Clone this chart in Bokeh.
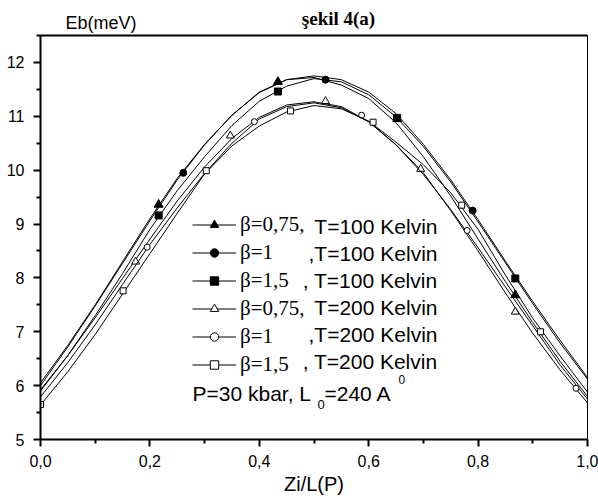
from bokeh.plotting import figure
from bokeh.layouts import column
from bokeh.models import (Label, Legend, LegendItem, LinearAxis, FixedTicker,
                          Range1d, CustomJSTickFormatter)
from bokeh.core.properties import value
from bokeh.embed import file_html
from bokeh.resources import INLINE

# ---------------- data ----------------
zi_l = [0.00, 0.05, 0.10, 0.15, 0.20, 0.25, 0.30, 0.35, 0.40, 0.45, 0.50,
        0.55, 0.60, 0.65, 0.70, 0.75, 0.80, 0.85, 0.90, 0.95, 1.00]

eb_b075_t100 = [6.05, 6.75, 7.50, 8.30, 9.10, 9.85, 10.48, 11.02, 11.45, 11.68, 11.72,
                11.58, 11.33, 10.88, 10.25, 9.52, 8.72, 7.93, 7.17, 6.45, 5.80]
eb_b1_t100 = [6.00, 6.72, 7.48, 8.27, 9.06, 9.82, 10.47, 11.02, 11.44, 11.68, 11.75,
              11.68, 11.45, 11.05, 10.48, 9.82, 9.08, 8.31, 7.56, 6.84, 6.15]
eb_b15_t100 = [5.90, 6.56, 7.30, 8.08, 8.90, 9.62, 10.25, 10.83, 11.28, 11.56, 11.70,
               11.64, 11.40, 10.99, 10.44, 9.78, 9.04, 8.28, 7.52, 6.79, 6.12]
eb_b075_t200 = [5.92, 6.56, 7.26, 7.99, 8.72, 9.43, 10.06, 10.59, 10.98, 11.21, 11.27,
                11.18, 10.90, 10.47, 9.95, 9.25, 8.50, 7.72, 6.97, 6.29, 5.68]
eb_b1_t200 = [5.79, 6.43, 7.13, 7.88, 8.62, 9.30, 9.94, 10.50, 10.95, 11.18, 11.25,
              11.16, 10.90, 10.47, 9.92, 9.27, 8.56, 7.83, 7.11, 6.38, 5.75]
eb_b15_t200 = [5.64, 6.26, 6.95, 7.70, 8.45, 9.20, 9.93, 10.45, 10.82, 11.08, 11.20,
               11.14, 10.91, 10.52, 10.10, 9.58, 8.90, 8.05, 7.25, 6.55, 5.88]

# marker points (symbols drawn on the curves)
mk_b075_t100_x = [0.216, 0.434, 0.652, 0.868]
mk_b075_t100_y = [9.36, 11.64, 10.95, 7.68]
mk_b1_t100_x = [0.261, 0.521, 0.790]
mk_b1_t100_y = [9.95, 11.68, 9.25]
mk_b15_t100_x = [0.216, 0.434, 0.652, 0.868]
mk_b15_t100_y = [9.16, 11.46, 10.97, 7.99]
mk_b075_t200_x = [0.174, 0.347, 0.521, 0.695, 0.868]
mk_b075_t200_y = [8.30, 10.64, 11.28, 10.02, 7.37]
mk_b1_t200_x = [0.195, 0.391, 0.587, 0.780, 0.979]
mk_b1_t200_y = [8.57, 10.90, 11.02, 8.88, 5.95]
mk_b15_t200_x = [0.000, 0.151, 0.303, 0.457, 0.608, 0.770, 0.914]
mk_b15_t200_y = [5.65, 7.76, 9.99, 11.10, 10.89, 9.35, 7.00]

legend_beta = ["β=0,75,", "β=1", "β=1,5", "β=0,75,", "β=1", "β=1,5"]
legend_temp = ["T=100 Kelvin", ",T=100 Kelvin", ", T=100 Kelvin",
               "T=200 Kelvin", ",T=200 Kelvin", ", T=200 Kelvin"]

x_ticks = [0.0, 0.2, 0.4, 0.6, 0.8, 1.0]
x_minor = [0.1, 0.3, 0.5, 0.7, 0.9]
y_ticks = [5, 6, 7, 8, 9, 10, 11, 12]
y_minor = [5.5, 6.5, 7.5, 8.5, 9.5, 10.5, 11.5, 12.5]

series = [
    (eb_b075_t100, mk_b075_t100_x, mk_b075_t100_y, "triangle", 9, "black"),
    (eb_b1_t100, mk_b1_t100_x, mk_b1_t100_y, "circle", 7, "black"),
    (eb_b15_t100, mk_b15_t100_x, mk_b15_t100_y, "square", 7, "black"),
    (eb_b075_t200, mk_b075_t200_x, mk_b075_t200_y, "triangle", 8, "white"),
    (eb_b1_t200, mk_b1_t200_x, mk_b1_t200_y, "circle", 6, "white"),
    (eb_b15_t200, mk_b15_t200_x, mk_b15_t200_y, "square", 6, "white"),
]

# ---------------- header strip (title + y-axis caption) ----------------
head = figure(width=598, height=33, x_range=Range1d(0, 1), y_range=Range1d(0, 1),
              output_backend="svg", toolbar_location=None, title_location=None,
              x_axis_location=None, y_axis_location=None,
              min_border_left=0, min_border_right=0, min_border_top=0, min_border_bottom=0)
head.xgrid.visible = False
head.ygrid.visible = False
head.outline_line_color = None
head.background_fill_color = "white"
head.border_fill_color = "white"


def lab(fig, x, y, text, size, font="Liberation Sans", align="left",
        baseline="middle", style="normal"):
    fig.add_layout(Label(x=x, y=y, x_units="screen", y_units="screen", text=text,
                         text_font=font, text_font_size=size, text_align=align,
                         text_baseline=baseline, text_color="black",
                         text_font_style=style))


lab(head, 25, 11, "Eb(meV)", "18px", baseline="alphabetic")
lab(head, 298, 15, "şekil 4(a)", "19px", font="Liberation Serif", align="center",
    baseline="alphabetic", style="bold")

# ---------------- main plot ----------------
p = figure(width=598, height=467, x_range=Range1d(0, 1), y_range=Range1d(5, 12.5),
           output_backend="svg", toolbar_location=None, title_location=None,
           min_border_left=40, min_border_right=11, min_border_top=2, min_border_bottom=61)
p.xgrid.visible = False
p.ygrid.visible = False
p.outline_line_color = "black"
p.outline_line_width = 1
p.background_fill_color = "white"
p.border_fill_color = "white"

for ax in (p.xaxis[0], p.yaxis[0]):
    ax.axis_line_width = 2
    ax.major_tick_line_width = 2
    ax.minor_tick_line_width = 2
    ax.major_tick_out = 7
    ax.major_tick_in = 0
    ax.minor_tick_out = 4
    ax.minor_tick_in = 0
    ax.major_label_text_font = "Liberation Sans"
    ax.major_label_text_font_size = "16px"
    ax.major_label_text_color = "black"

p.xaxis[0].major_label_standoff = 8
p.yaxis[0].major_label_standoff = 9
p.xaxis[0].ticker = FixedTicker(ticks=x_ticks, minor_ticks=x_minor)
p.xaxis[0].formatter = CustomJSTickFormatter(code="return tick.toFixed(1).replace('.', ',');")
p.yaxis[0].ticker = FixedTicker(ticks=y_ticks, minor_ticks=y_minor)
p.xaxis[0].axis_label = "Zi/L(P)"
p.xaxis[0].axis_label_text_font = "Liberation Sans"
p.xaxis[0].axis_label_text_font_size = "20px"
p.xaxis[0].axis_label_text_font_style = "normal"
p.xaxis[0].axis_label_text_color = "black"
p.xaxis[0].axis_label_standoff = 3

top_axis = LinearAxis(ticker=FixedTicker(ticks=[]), axis_line_width=2,
                      major_label_text_font_size="0px", major_label_standoff=0,
                      major_tick_out=0, major_tick_in=0, minor_tick_out=0, minor_tick_in=0,
                      major_tick_line_color=None, minor_tick_line_color=None)
p.add_layout(top_axis, "above")

items = []
for (vals, mx, my, mk, sz, fill), beta in zip(series, legend_beta):
    lr = p.line(zi_l, vals, line_color="black", line_width=1)
    sr = p.scatter(mx, my, marker=mk, size=sz, fill_color=fill, line_color="black", line_width=1)
    # empty renderer: only used to open a small gap around the symbol in the legend
    gap = p.scatter([], [], marker="square", size=13, fill_color="white", line_color=None)
    items.append(LegendItem(label=value(beta), renderers=[lr, gap, sr]))

legend = Legend(items=items, location=(152, 62), glyph_width=44, glyph_height=21,
                label_height=21, label_standoff=4, spacing=3, padding=0, margin=0,
                border_line_alpha=0, background_fill_alpha=0,
                label_text_font="Liberation Serif", label_text_font_size="21px",
                label_text_color="black")
p.add_layout(legend)

row_y = [213, 186, 159, 132, 105, 78]
for ry, t in zip(row_y, legend_temp):
    lab(p, 397, ry, t, "21px", align="right")

lab(p, 152, 46, "P=30 kbar, L", "21px", baseline="alphabetic")
lab(p, 277, 35, "0", "13px")
lab(p, 284, 46, "=240 A", "21px", baseline="alphabetic")
lab(p, 358, 60, "0", "12px")

layout = column(head, p, spacing=0)
open("out.html", "w").write(file_html(layout, INLINE))
